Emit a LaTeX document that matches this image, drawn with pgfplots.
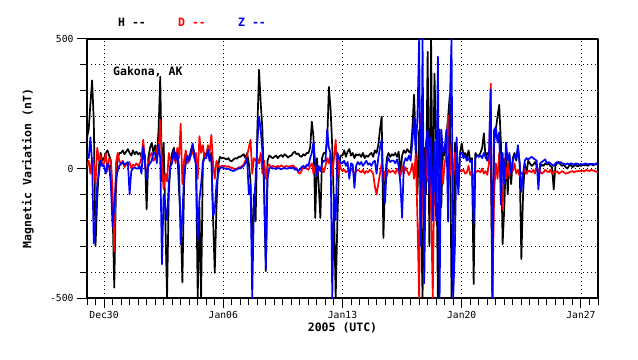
\documentclass[border=0pt]{standalone}
\usepackage{fontspec}
\setmainfont{DejaVu Sans Mono}
\usepackage{pgfplots}
\usepackage{pgfplotstable}
\pgfplotsset{compat=1.18}

\pgfplotstableread{
H D Z
120 10 60
150 30 40
250 -20 120
340 40 20
180 20 -290
-300 -60 -200
-120 80 -60
10 30 -20
60 50 30
30 10 10
40 20 10
60 60 -20
70 -10 20
50 40 10
30 30 -60
-150 -80 -225
-460 -320 -150
-80 20 -40
40 60 -10
60 30 10
60 15 20
70 30 25
55 5 15
65 20 20
75 10 25
60 25 -100
50 0 -10
70 15 0
55 10 5
65 20 0
55 10 0
60 20 10
45 40 -20
70 111 85
50 30 20
-158 -30 -40
40 10 10
80 50 20
100 60 30
60 30 60
90 40 60
40 80 20
150 60 90
354 188 40
-50 20 -370
100 -80 -100
-200 -20 -150
-500 -50 -200
-100 60 -60
20 30 10
60 30 20
80 60 70
40 20 30
70 80 60
-80 40 10
-200 173 -290
-440 -60 -180
-60 30 -30
50 70 20
30 20 50
40 30 30
70 50 60
90 70 97
60 40 50
20 60 10
-500 -40 -277
-150 125 -120
-500 60 -60
20 90 20
60 40 40
50 40 40
80 90 72
30 60 30
60 130 50
-190 20 -185
-403 -40 -160
-150 30 -60
10 10 -20
45 5 0
40 10 5
42 8 2
38 10 0
35 6 -2
40 9 0
30 5 -5
28 3 -8
35 0 -10
40 -5 -6
38 -2 -3
45 5 0
45 5 0
50 10 5
55 15 10
40 30 20
60 50 40
20 80 -100
-50 111 -60
-331 -20 -500
-100 40 -140
-204 30 -40
150 40 100
381 20 200
250 60 150
150 -20 60
-100 30 -50
-396 -40 -390
30 10 -40
50 15 0
45 5 5
40 10 0
45 8 0
50 5 -2
40 10 2
48 6 0
52 12 -3
45 8 0
55 5 2
50 10 -1
42 7 0
48 8 3
50 10 0
60 12 5
65 5 -5
55 0 0
58 -15 -10
48 -20 -5
45 -10 5
55 10 10
50 5 0
60 0 15
60 -5 10
80 10 40
181 20 60
120 -20 104
-191 10 20
40 -30 -30
-60 0 10
-191 -10 -10
40 5 20
60 -15 30
60 10 30
100 40 150
315 20 80
230 60 60
80 -30 -500
-150 40 -100
-500 111 -200
-200 -40 60
20 30 40
50 0 20
50 -10 20
70 -5 30
45 -15 10
65 -8 25
75 -12 -40
50 -5 20
60 -10 15
40 -20 -75
55 -10 10
50 -5 25
55 -10 15
45 -15 25
60 -5 10
40 -20 20
50 -10 30
45 -15 15
55 -5 20
60 -10 10
45 -20 25
70 -70 30
60 -100 -20
90 -60 40
150 -20 80
200 20 111
-268 -40 -60
-50 -10 -133
40 -30 20
60 -5 40
45 -15 25
55 -10 30
50 -10 30
60 -20 20
45 0 35
65 -15 10
-20 -30 -60
50 10 -191
70 -20 20
60 5 40
75 -10 30
65 -25 50
60 -10 30
150 20 100
285 -40 193
100 60 60
-100 -200 200
150 -500 500
-150 213 -300
-500 -100 500
80 -300 -443
-100 100 100
451 -50 150
-300 80 -100
500 -150 120
-200 -500 -200
366 40 100
100 -100 -200
-500 50 432
150 -80 -500
-150 30 150
80 -60 60
50 20 80
120 60 150
200 204 -205
285 -30 250
-500 100 500
-360 -50 -500
100 60 -300
-50 -20 120
-80 10 -100
60 -10 60
97 -10 60
50 -5 40
60 -20 50
40 -15 30
70 10 40
30 -25 25
40 -10 30
-446 -40 -210
60 -15 40
50 -10 50
50 -10 45
60 -15 50
80 0 40
136 -20 60
40 -10 45
60 -25 30
50 20 60
80 328 304
-500 -500 -500
100 -100 150
150 20 160
200 -40 100
246 60 140
100 -80 -140
-292 -158 60
-150 40 -60
60 -40 100
-100 20 30
50 -30 60
-60 10 -20
40 -10 30
60 20 50
30 -20 40
78 -5 90
20 -30 20
-350 -15 -90
-100 -25 -20
20 0 30
-20 -20 40
30 -10 35
20 -10 40
10 -15 45
15 -5 40
25 -20 35
10 10 30
-30 -15 -81
5 -10 20
15 -20 25
10 -15 30
20 -5 35
15 -10 20
20 -15 25
10 -5 20
5 -20 15
-81 -10 10
10 -15 20
20 -10 25
25 -20 20
15 -15 25
10 -10 20
15 -15 18
5 -20 15
0 -18 20
10 -15 15
15 -12 20
5 -10 18
10 -15 15
15 -10 20
8 -12 18
12 -8 15
10 -10 18
15 -8 15
12 -12 18
15 -5 20
10 -8 15
15 -10 18
18 -5 15
12 -8 18
15 -10 15
18 -12 20
15 -15 10
}\magdata

\begin{document}
\begin{tikzpicture}
\begin{axis}[
  name=ax,
  scale only axis,
  width=511pt, height=259pt,
  xmin=0, xmax=30, ymin=-500, ymax=500,
  xtick={1,8,15,22,29},
  xticklabels={Dec30,Jan06,Jan13,Jan20,Jan27},
  minor xtick={0,0.5,...,30},
  ytick={-500,0,500},
  yticklabels={-500,0,500},
  minor ytick={-400,-300,-200,-100,100,200,300,400},
  tick align=outside, xtick pos=bottom, ytick pos=left,
  major tick length=10pt, minor tick length=7pt,
  every tick/.style={black, line width=1pt},
  xmajorgrids, ymajorgrids, yminorgrids,
  major grid style={black, line width=0.9pt, dash pattern=on 1pt off 3pt},
  minor grid style={black, line width=0.9pt, dash pattern=on 1pt off 3pt},
  axis line style={black, line width=1.4pt},
  ticklabel style={font=\fontsize{9.7}{11}\selectfont},
  line join=round,
]
\addplot[black, line width=1.7pt, mark=none] table[x expr=\coordindex*0.1, y=H]{\magdata};
\addplot[red, line width=1.7pt, mark=none] table[x expr=\coordindex*0.1, y=D]{\magdata};
\addplot[blue, line width=1.7pt, mark=none] table[x expr=\coordindex*0.1, y=Z]{\magdata};
\end{axis}
\node[font=\bfseries\fontsize{11.5}{13}\selectfont, text=black] at ([xshift=45pt,yshift=17pt]ax.north west) {H -{}-};
\node[font=\bfseries\fontsize{11.5}{13}\selectfont, text=red] at ([xshift=105pt,yshift=17pt]ax.north west) {D -{}-};
\node[font=\bfseries\fontsize{11.5}{13}\selectfont, text=blue] at ([xshift=165pt,yshift=17pt]ax.north west) {Z -{}-};
\node[anchor=west, inner sep=0pt, font=\bfseries\fontsize{11.5}{13}\selectfont] at ([xshift=26pt,yshift=-33pt]ax.north west) {Gakona, AK};
\node[rotate=90, font=\bfseries\fontsize{11.5}{13}\selectfont] at ([xshift=-59pt]ax.west) {Magnetic Variation (nT)};
\node[font=\bfseries\fontsize{11.5}{13}\selectfont] at ([yshift=-30pt]ax.south) {2005 (UTC)};
\pgfresetboundingbox
\path[use as bounding box] ([xshift=-87pt,yshift=-61pt]ax.south west) rectangle ([xshift=40pt,yshift=39pt]ax.north east);
\end{tikzpicture}
\end{document}
